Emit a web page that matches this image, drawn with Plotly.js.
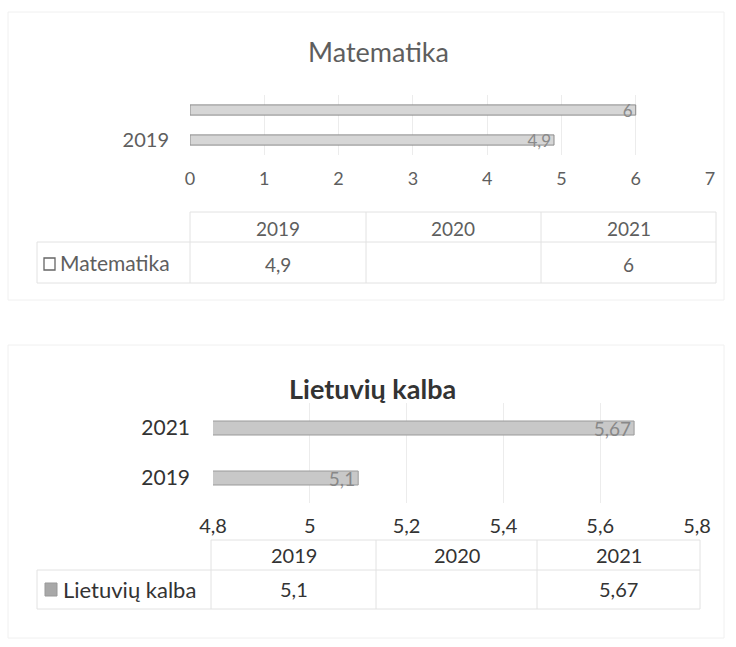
<!DOCTYPE html>
<html><head><meta charset="utf-8">
<script src="https://cdn.plot.ly/plotly-3.0.1.min.js"></script>
<style>html,body{margin:0;padding:0;background:#fff}#c{width:736px;height:647px}</style>
</head><body><div id="c"></div>
<script>
// ---- data ----
const years = ['2019', '2020', '2021'];
const mathTitle = 'Matematika';
const mathYears = ['2019', '2021'];
const mathValues = [4.9, 6];
const mathTable = ['4,9', '', '6'];
const litTitle = 'Lietuvių kalba';
const litYears = ['2019', '2021'];
const litValues = [5.1, 5.67];
const litTable = ['5,1', '', '5,67'];
const mathXTicks = [0, 1, 2, 3, 4, 5, 6, 7];
const litXTicks = [4.8, 5, 5.2, 5.4, 5.6, 5.8];

// ---- helpers ----
const W = 736, H = 647;
const px = x => x / W, py = y => 1 - y / H;
const fmt = v => String(v).replace('.', ',');
const F1 = 'Lato, "Open Sans", sans-serif';
const F2 = 'Lato, "Open Sans", sans-serif';
const C1 = '#5e5e5e', C2 = '#333';

const traces = [
  {type: 'bar', orientation: 'h', x: mathValues, y: mathYears, xaxis: 'x', yaxis: 'y',
   width: 0.34, marker: {color: '#d6d6d6', line: {color: '#8a8a8a', width: 1}},
   text: mathValues.map(fmt), textposition: 'inside', insidetextanchor: 'end', constraintext: 'none', textangle: 0,
   textfont: {family: F1, size: 17, color: '#8a8a8a'}, hoverinfo: 'skip', showlegend: false},
  {type: 'bar', orientation: 'h', x: litValues, y: litYears, xaxis: 'x2', yaxis: 'y2',
   width: 0.28, marker: {color: '#c8c8c8', line: {color: '#9a9a9a', width: 1}},
   text: litValues.map(fmt), textposition: 'inside', insidetextanchor: 'end', constraintext: 'none', textangle: 0,
   textfont: {family: F2, size: 19, color: '#888'}, hoverinfo: 'skip', showlegend: false}
];

const shapes = [];
const annotations = [];
const line = (x0, y0, x1, y1, c) => shapes.push({type: 'line', xref: 'paper', yref: 'paper',
  x0: px(x0), y0: py(y0), x1: px(x1), y1: py(y1), line: {color: c || '#e2e2e2', width: 1}});
const text = (x, y, t, font, anchor) => annotations.push({
  xref: 'paper', yref: 'paper', x: px(x), y: py(y), text: t, showarrow: false,
  xanchor: anchor || 'center', yanchor: 'middle', font: font});

// outer frames
shapes.push({type: 'rect', xref: 'paper', yref: 'paper', x0: px(8), y0: py(300), x1: px(724), y1: py(12), line: {color: '#f0f0f0', width: 1}});
shapes.push({type: 'rect', xref: 'paper', yref: 'paper', x0: px(8), y0: py(638), x1: px(724), y1: py(345), line: {color: '#f0f0f0', width: 1}});

// table helper
function table(cols, top, mid, bot, legLeft, vals, hdrY, valY, font) {
  line(cols[0], top, cols[3], top);
  line(legLeft, mid, cols[3], mid);
  line(legLeft, bot, cols[3], bot);
  cols.forEach(c => line(c, top, c, bot));
  line(legLeft, mid, legLeft, bot);
  for (let i = 0; i < 3; i++) {
    const cx = (cols[i] + cols[i + 1]) / 2;
    text(cx, hdrY, years[i], font);
    if (vals[i]) text(cx, valY, vals[i], font);
  }
}
const tf1 = {family: F1, size: 19, color: C1};
const tf2 = {family: F2, size: 20, color: C2};
table([190, 366, 541, 716], 212, 242, 283, 37, mathTable, 228, 264, tf1);
table([211, 376, 537, 700], 540, 570, 609, 37, litTable, 555, 589, tf2);

// legend keys
shapes.push({type: 'rect', xref: 'paper', yref: 'paper', x0: px(44), y0: py(270), x1: px(55), y1: py(258), line: {color: '#666', width: 1.3}, fillcolor: '#fff'});
text(58, 263, mathTitle, {family: F1, size: 21, color: C1}, 'left');
shapes.push({type: 'rect', xref: 'paper', yref: 'paper', x0: px(45), y0: py(596), x1: px(57), y1: py(583), line: {color: '#999', width: 1}, fillcolor: '#a8a8a8'});
text(61, 589, litTitle, {family: F2, size: 22, color: C2}, 'left');

const layout = {
  width: W, height: H, margin: {l: 0, r: 0, t: 0, b: 0},
  paper_bgcolor: '#fff', plot_bgcolor: 'rgba(0,0,0,0)', separators: ', ',
  font: {family: F2}, showlegend: false, bargap: 0,
  xaxis: {domain: [px(190), px(710)], range: [0, 7], tickvals: mathXTicks, ticktext: mathXTicks.map(fmt),
    showgrid: true, gridcolor: '#ececec', zeroline: false, showline: false, ticks: '',
    tickfont: {family: F1, size: 18, color: C1}, ticklabelstandoff: 11, anchor: 'y', fixedrange: true},
  yaxis: {domain: [py(155), py(95)], type: 'category', categoryorder: 'array', categoryarray: mathYears,
    tickvals: ['2019'], showgrid: false, zeroline: false, showline: false, ticks: '',
    tickfont: {family: F1, size: 20, color: C1}, ticklabelstandoff: 20, anchor: 'x', fixedrange: true},
  xaxis2: {domain: [px(213), px(697)], range: [4.8, 5.8], tickvals: litXTicks, ticktext: litXTicks.map(fmt),
    showgrid: true, gridcolor: '#ececec', zeroline: false, showline: false, ticks: '',
    tickfont: {family: F2, size: 20, color: C2}, ticklabelstandoff: 9, anchor: 'y2', fixedrange: true},
  yaxis2: {domain: [py(503), py(403)], type: 'category', categoryorder: 'array', categoryarray: litYears,
    showgrid: false, zeroline: false, showline: false, ticks: '',
    tickfont: {family: F2, size: 21, color: C2}, ticklabelstandoff: 22, anchor: 'x2', fixedrange: true},
  shapes: shapes,
  annotations: annotations.concat([
    {xref: 'paper', yref: 'paper', x: px(378), y: py(52), text: mathTitle, showarrow: false,
     xanchor: 'center', yanchor: 'middle', font: {family: F1, size: 27, color: C1}},
    {xref: 'paper', yref: 'paper', x: px(373), y: py(388), text: '<b>' + litTitle + '</b>', showarrow: false,
     xanchor: 'center', yanchor: 'middle', font: {family: F2, size: 27, color: C2}}
  ])
};

Plotly.newPlot('c', traces, layout, {staticPlot: true, displayModeBar: false});
</script>
</body></html>
